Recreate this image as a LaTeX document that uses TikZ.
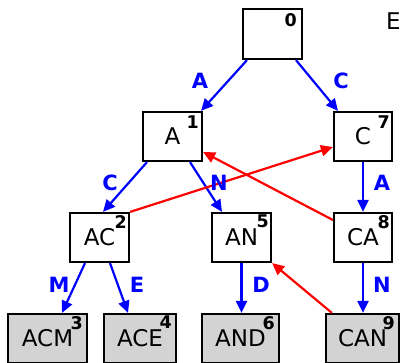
\documentclass[tikz,border=0pt]{standalone}
\usepackage{fontspec}
\setmainfont{DejaVu Sans}
\usetikzlibrary{arrows.meta}
\definecolor{boxgray}{HTML}{D3D3D3}
\tikzset{
  st/.style={draw=black, line width=2.2pt, minimum height=49pt, inner sep=0pt,
    font=\fontsize{23}{27}\selectfont},
  leafst/.style={st, fill=boxgray},
  num/.style={anchor=north east, inner sep=0pt, font=\fontsize{17.5}{20}\selectfont\bfseries},
  tr/.style={draw=blue, line width=2.2pt, -{Triangle[length=12pt,width=11pt]}},
  sl/.style={draw=red, line width=2.2pt, -{Triangle[length=12pt,width=11pt]}},
  elab/.style={text=blue, inner sep=0pt, font=\fontsize{21}{24}\selectfont\bfseries},
}
\begin{document}
\begin{tikzpicture}[x=1pt, y=-1pt]
\useasboundingbox (0,0) rectangle (401,363);
\clip (0,0) rectangle (401,363);
\fill[white] (0,0) rectangle (401,363);
% nodes
\node[st, minimum width=59pt, minimum height=50pt] (n0) at (272.5,34) {};
\node[st, minimum width=59pt] (n1) at (172.5,136.5) {A};
\node[st, minimum width=58pt] (n7) at (363,136.5) {C};
\node[st, minimum width=59pt] (n2) at (99.5,237.5) {AC};
\node[st, minimum width=59pt] (n5) at (241.5,237.5) {AN};
\node[st, minimum width=58pt] (n8) at (363,237.5) {CA};
\node[leafst, minimum width=79pt] (n3) at (47.5,338.5) {ACM};
\node[leafst, minimum width=72pt] (n4) at (140,338.5) {ACE};
\node[leafst, minimum width=77pt] (n6) at (240.5,338.5) {AND};
\node[leafst, minimum width=73pt] (n9) at (362.5,338.5) {CAN};
% numbers
\node[num] (k0) at ([xshift=-6pt,yshift=-5pt]n0.north east) {0};
\node[num] (k1) at ([xshift=-4pt,yshift=-5pt]n1.north east) {1};
\node[num] (k7) at ([xshift=-3pt,yshift=-5pt]n7.north east) {7};
\node[num] (k2) at ([xshift=-3pt,yshift=-3pt]n2.north east) {2};
\node[num] (k5) at ([xshift=-3pt,yshift=-3pt]n5.north east) {5};
\node[num] (k8) at ([xshift=-3pt,yshift=-3pt]n8.north east) {8};
\node[num] (k3) at ([xshift=-5pt,yshift=-3pt]n3.north east) {3};
\node[num] (k4) at ([xshift=-5pt,yshift=-3pt]n4.north east) {4};
\node[num] (k6) at ([xshift=-5pt,yshift=-3pt]n6.north east) {6};
\node[num] (k9) at ([xshift=-5pt,yshift=-3pt]n9.north east) {9};
% partial text at top right
\node[anchor=base west, inner sep=0pt, font=\fontsize{23}{27}\selectfont] (etext) at (386,30) {E};
% tree edges
\draw[tr] ([xshift=-25.5pt]n0.south) -- ([xshift=28.5pt]n1.north);
\draw[tr] ([xshift=23.5pt]n0.south) -- ([xshift=-25pt]n7.north);
\draw[tr] ([xshift=-25.5pt]n1.south) -- ([xshift=3.5pt]n2.north);
\draw[tr] ([xshift=17.5pt]n1.south) -- ([xshift=-19.5pt]n5.north);
\draw[tr] (n7.south) -- (n8.north);
\draw[tr] ([xshift=-14.5pt]n2.south) -- ([xshift=14.5pt]n3.north);
\draw[tr] ([xshift=10.5pt]n2.south) -- ([xshift=-12pt]n4.north);
\draw[tr] (n5.south) -- (n5.south |- n6.north);
\draw[tr] (n8.south) -- (n8.south |- n9.north);
% suffix links
\draw[sl] (n2.north east) -- ([yshift=-10.5pt]n7.west);
\draw[sl] ([yshift=17.5pt]n8.west) -- ([yshift=-15.5pt]n1.east);
\draw[sl] ([xshift=7pt]n9.north west) -- (n5.south east);
% edge labels
\node[elab] (l01) at (200,81) {A};
\node[elab] (l07) at (341,81) {C};
\node[elab] (l12) at (110,183) {C};
\node[elab] (l15) at (219,183) {N};
\node[elab] (l78) at (382,183) {A};
\node[elab] (l23) at (59,285) {M};
\node[elab] (l24) at (137,285) {E};
\node[elab] (l56) at (261,285) {D};
\node[elab] (l89) at (382,285) {N};
\end{tikzpicture}
\end{document}
